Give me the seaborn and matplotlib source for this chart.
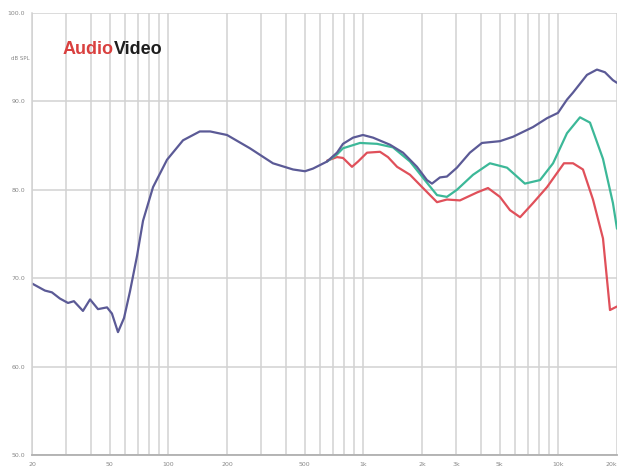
import numpy as np
import pandas as pd
import seaborn as sns
import matplotlib.pyplot as plt
from matplotlib.ticker import FixedLocator, NullFormatter

# === DATOS ===
freq_blue = [20, 23.3, 25.3, 27.8, 30.6, 32.8, 36.5, 39.7, 43.6, 48.5, 51.4, 55.2,
             59.3, 63.6, 69.1, 74.2, 83.5, 98.5, 119, 145, 164, 200, 262, 344, 436,
             502, 552, 652, 733, 787, 886, 996, 1122, 1370, 1598, 1884, 2120, 2250,
             2472, 2684, 3020, 3520, 4060, 5020, 5860, 7420, 8750, 9960, 11080,
             11900, 14030, 15780, 17340, 19060, 20000]
spl_blue = [69.4, 68.6, 68.4, 67.7, 67.2, 67.4, 66.3, 67.6, 66.5, 66.7, 66.0, 63.9,
            65.5, 68.5, 72.5, 76.5, 80.3, 83.4, 85.6, 86.6, 86.6, 86.2, 84.7, 83.0,
            82.3, 82.1, 82.4, 83.2, 84.2, 85.2, 85.9, 86.2, 85.9, 85.1, 84.2, 82.6,
            81.1, 80.7, 81.4, 81.5, 82.5, 84.2, 85.3, 85.5, 86.0, 87.1, 88.1, 88.7,
            90.2, 91.0, 93.0, 93.6, 93.3, 92.4, 92.1]

freq_teal = [652, 733, 787, 962, 1176, 1420, 1736, 2120, 2388, 2684, 3020, 3654,
             4460, 5460, 6740, 8060, 9400, 11080, 12920, 14540, 16950, 19060, 20000]
spl_teal = [83.2, 84.0, 84.7, 85.3, 85.2, 84.8, 83.2, 80.8, 79.4, 79.2, 80.0, 81.7,
            83.0, 82.5, 80.7, 81.1, 83.0, 86.4, 88.2, 87.6, 83.5, 78.5, 75.6]

freq_red = [652, 733, 787, 875, 940, 1045, 1218, 1338, 1490, 1736, 2024, 2388, 2684,
            3130, 3830, 4360, 5020, 5650, 6370, 7420, 8750, 10690, 11900, 13380,
            15060, 16950, 18410, 20000]
spl_red = [83.3, 83.7, 83.6, 82.6, 83.2, 84.2, 84.3, 83.7, 82.6, 81.7, 80.2, 78.6,
           78.9, 78.8, 79.7, 80.2, 79.2, 77.7, 76.9, 78.5, 80.3, 83.0, 83.0, 82.3,
           78.9, 74.5, 66.4, 66.8]

x_major = [20, 50, 100, 200, 500, 1000, 2000, 3000, 5000, 10000, 20000]
x_labels = ["20", "50", "100", "200", "500", "1k", "2k", "3k", "5k", "10k", "20k"]
y_ticks = [50, 60, 70, 80, 90, 100]
y_labels = ["50.0", "60.0", "70.0", "80.0", "90.0", "100.0"]

# === FIGURA ===
sns.set_style("white")
fig = plt.figure(figsize=(6.2, 4.69), dpi=100)
ax = fig.add_axes([32 / 620, 1 - 455 / 469, 585 / 620, 442 / 469])

grid_col = "#d2d2d2"
sns.lineplot(x=freq_red, y=spl_red, color="#e0505a", linewidth=1.6, ax=ax, sort=False)
sns.lineplot(x=freq_teal, y=spl_teal, color="#3cb898", linewidth=1.6, ax=ax, sort=False)
sns.lineplot(x=freq_blue, y=spl_blue, color="#5b5a96", linewidth=1.6, ax=ax, sort=False)

ax.set_xscale("log")
ax.set_xlim(20, 20000)
ax.set_ylim(50, 100)

minor = [f * d for d in (10, 100, 1000) for f in range(2, 10)] + [20000]
minor = [m for m in minor if 20 <= m <= 20000 and m not in x_major]
ax.xaxis.set_major_locator(FixedLocator(x_major))
ax.xaxis.set_minor_locator(FixedLocator(minor))
ax.xaxis.set_minor_formatter(NullFormatter())
ax.set_xticklabels(x_labels)
ax.set_yticks(y_ticks)
ax.set_yticklabels(y_labels)
# el último rótulo pegado al borde derecho
ax.get_xticklabels()[-1].set_horizontalalignment("right")

ax.grid(True, which="both", axis="x", color=grid_col, linewidth=1.1)
ax.grid(True, which="major", axis="y", color=grid_col, linewidth=1.1)
ax.set_axisbelow(True)

for side in ["top", "right"]:
    ax.spines[side].set_visible(False)
ax.spines["left"].set_color(grid_col)
ax.spines["bottom"].set_color("#b0b0b0")
ax.spines["left"].set_linewidth(1.1)
ax.spines["bottom"].set_linewidth(1.3)

ax.tick_params(axis="both", which="both", labelsize=4.5, labelcolor="#888888",
               color=grid_col, length=3, pad=2)
ax.tick_params(axis="x", which="minor", length=0)
ax.set_xlabel("")
ax.set_ylabel("")

fig.text(20 / 620, 1 - 59 / 469, "dB SPL", fontsize=4, color="#888888", va="center", ha="center")

# Logo
logo = fig.text(63 / 620, 1 - 50 / 469, "Audio", fontsize=13, fontweight="bold",
                color="#d9403f", va="center", family="Liberation Sans")
ax.annotate("Video", xy=(1, 0.5), xycoords=logo, va="center", ha="left",
            fontsize=13, fontweight="bold", color="#1e1e1e", family="Liberation Sans")

fig.savefig("out.png", dpi=100, facecolor="white")
